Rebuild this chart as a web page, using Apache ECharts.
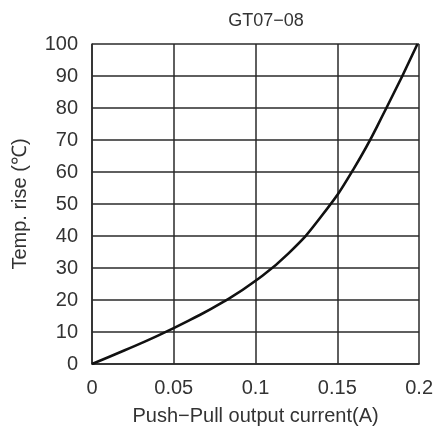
<!DOCTYPE html>
<html>
<head>
<meta charset="utf-8">
<script src="https://cdn.jsdelivr.net/npm/echarts@6/dist/echarts.min.js"></script>
<style>
  html, body { margin: 0; padding: 0; background: #fff; }
  #chart { width: 436px; height: 432px; }
</style>
</head>
<body>
<div id="chart"></div>
<script>
// current (A) vs temperature rise (°C)
const current = [0, 0.02, 0.04, 0.06, 0.08, 0.1, 0.12, 0.14, 0.16, 0.18, 0.199]
const tempRise = [0, 4.3, 8.8, 13.8, 19.3, 26, 34.5, 46, 61, 80, 100]

const font = 'Liberation Sans, Arial, sans-serif'
const textColor = '#333'
const lineColor = '#2a2a2a'

const chart = echarts.init(document.getElementById('chart'))

chart.setOption({
  animation: false,
  title: {
    text: 'GT07−08',
    left: 261,
    top: 7,
    textAlign: 'center',
    textStyle: { fontFamily: font, fontSize: 18, fontWeight: 'normal', color: textColor }
  },
  grid: { left: 92, right: 16, top: 44, bottom: 68 },
  xAxis: {
    type: 'value',
    min: 0,
    max: 0.2,
    interval: 0.05,
    name: 'Push−Pull output current(A)',
    nameLocation: 'middle',
    nameGap: 42,
    nameTextStyle: { fontFamily: font, fontSize: 20, color: textColor },
    axisLine: { show: true, lineStyle: { color: lineColor, width: 1.5 } },
    axisTick: { show: false },
    splitLine: { show: true, lineStyle: { color: lineColor, width: 1.5 } },
    axisLabel: {
      fontFamily: font, fontSize: 20, color: textColor, margin: 14,
      formatter: v => String(Math.round(v * 100) / 100)
    }
  },
  yAxis: {
    type: 'value',
    min: 0,
    max: 100,
    interval: 10,
    name: 'Temp. rise (℃)',
    nameLocation: 'middle',
    nameGap: 62,
    nameTextStyle: { fontFamily: font, fontSize: 20, color: textColor },
    axisLine: { show: true, lineStyle: { color: lineColor, width: 1.5 } },
    axisTick: { show: false },
    splitLine: { show: true, lineStyle: { color: lineColor, width: 1.5 } },
    axisLabel: {
      fontFamily: font, fontSize: 20, color: textColor, margin: 14,
      padding: [10, 0, 0, 0]
    }
  },
  series: [
    {
      type: 'line',
      data: current.map((x, i) => [x, tempRise[i]]),
      smooth: true,
      showSymbol: false,
      lineStyle: { color: '#111', width: 2.6 }
    }
  ]
})
</script>
</body>
</html>
